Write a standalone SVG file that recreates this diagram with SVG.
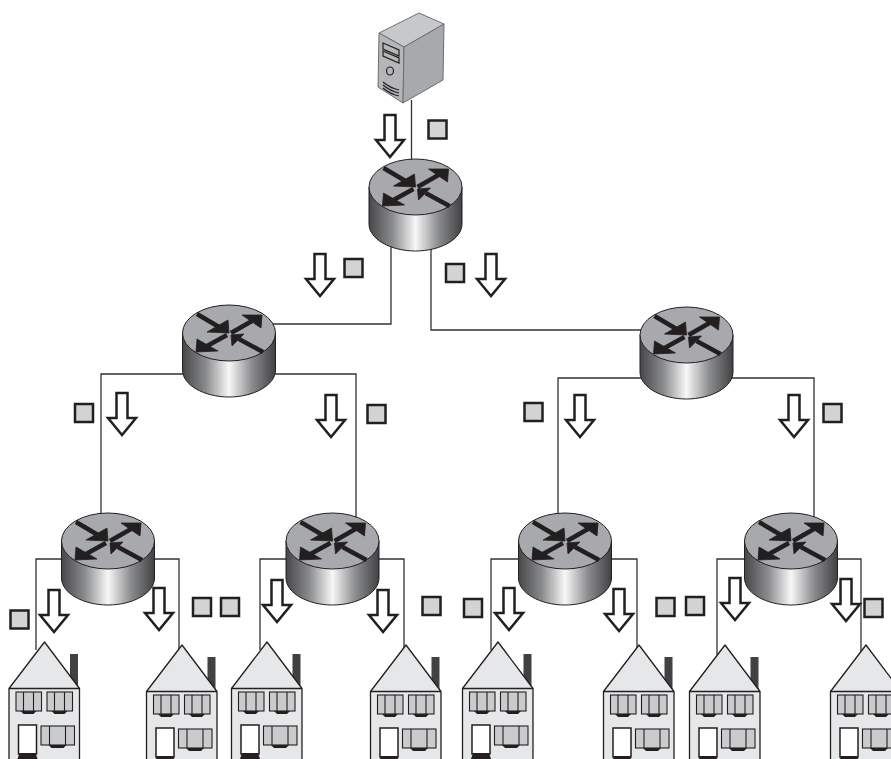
<svg xmlns="http://www.w3.org/2000/svg" width="891" height="759" viewBox="0 0 891 759">
<style>
.w{fill:none;stroke:#333;stroke-width:1.300}
.b{fill:#fff;stroke:#231f20;stroke-width:2.500;stroke-linejoin:miter}
.s{fill:#d1d3d4;stroke:#231f20;stroke-width:2.500}
.hb{fill:#e6e7e8;stroke:#231f20;stroke-width:1.300;stroke-linejoin:round}
.wn{fill:#c9cbcd;stroke:#231f20;stroke-width:1.100}
.dk{fill:#231f20}
</style>
<defs>
<linearGradient id="cyl" x1="0" x2="1" y1="0" y2="0">
<stop offset="0" stop-color="#47474a"/><stop offset=".25" stop-color="#8a8b8d"/><stop offset=".5" stop-color="#f7f7f7"/><stop offset=".75" stop-color="#8a8b8d"/><stop offset="1" stop-color="#414143"/>
</linearGradient>
<symbol id="router" overflow="visible">
<path d="M-46.500 0V37C-46.500 52 -25 64 0 64S46.500 52 46.500 37V0Z" fill="url(#cyl)" stroke="#231f20" stroke-width="1"/>
<ellipse rx="46.500" ry="28" fill="#a7a9ac" stroke="#231f20" stroke-width="1"/>
<g fill="#231f20" stroke="#231f20">
<path d="M-32 -19L-10 -6" stroke-width="4.500"/><path d="M0 0L-1 -13L-22 -1Z" stroke-width=".8"/>
<path d="M2 0L23 -12" stroke-width="4.500"/><path d="M33 -18L13 -18L32 -5Z" stroke-width=".8"/>
<path d="M-2 2L-22 13" stroke-width="4.500"/><path d="M-33 19L-32 6L-11 18Z" stroke-width=".8"/>
<path d="M34 19L10 6" stroke-width="4.500"/><path d="M2 2L15 1L3 13Z" stroke-width=".8"/>
</g>
</symbol>
<path id="arrow" class="b" d="M0 0L-14 -17H-5.500V-42H5.500V-17H14Z"/>
<rect id="sq" class="s" x="-9" y="-9" width="18" height="18"/>
<symbol id="house" overflow="visible">
<rect x="25.500" y="12" width="8" height="38" fill="#414042"/>
<path class="hb" d="M-35.500 46.500L0 0L35 46.500V120H-35.500Z"/>
<path d="M-35.500 46.500H35" fill="none" stroke="#231f20" stroke-width="1.300"/>
<g class="wn">
<rect x="-28.500" y="50" width="25.500" height="19"/><path d="M-21 50V69M-11 50V69" fill="none"/>
<rect x="2.500" y="50" width="25.500" height="19"/><path d="M10 50V69M20 50V69" fill="none"/>
<rect x="-3.500" y="84" width="33.500" height="19"/><path d="M5 84V103M21 84V103" fill="none"/>
</g>
<rect x="-26" y="83" width="18" height="29" fill="#fff" stroke="#231f20" stroke-width="1.500"/>
<path class="dk" d="M-25 111H-9L-7 117H-27Z"/>
<path class="dk" d="M-24 69H-8L-11 72H-21Z"/>
<path class="dk" d="M7 69H23L20 72H10Z"/>
<path class="dk" d="M4 103H22L19 106H7Z"/>
</symbol>
</defs>
<rect width="891" height="759" fill="#fff"/>
<g id="connectors">
<path class="w" d="M411.500 100V162"/>
<path class="w" d="M391 245V324H272M431 245V330H642"/>
<path class="w" d="M186 374H101V520M272 374H356V520"/>
<path class="w" d="M643 378H558V520M729 378H814V520"/>
<path class="w" d="M65 559H36V650M150 559H179V655"/>
<path class="w" d="M290 559H260V650M375 559H404V655"/>
<path class="w" d="M522 559H491V650M608 559H637V655"/>
<path class="w" d="M748 559H717V655M834 559H861V655"/>
<g id="arrows">
<use href="#arrow" x="390" y="157"/><use href="#arrow" x="320" y="296"/><use href="#arrow" x="491" y="296"/>
<use href="#arrow" x="122" y="435"/><use href="#arrow" x="331" y="437"/><use href="#arrow" x="580" y="437"/><use href="#arrow" x="794" y="437"/>
<use href="#arrow" x="54" y="632"/><use href="#arrow" x="159" y="630"/><use href="#arrow" x="277" y="622"/><use href="#arrow" x="383" y="632"/>
<use href="#arrow" x="509" y="630"/><use href="#arrow" x="619" y="631"/><use href="#arrow" x="735" y="620"/><use href="#arrow" x="846" y="621"/>
</g>
<g id="packets">
<use href="#sq" x="437.500" y="129.500"/><use href="#sq" x="353.500" y="268"/><use href="#sq" x="455" y="273"/>
<use href="#sq" x="84" y="413"/><use href="#sq" x="376.500" y="414"/><use href="#sq" x="533.500" y="412"/><use href="#sq" x="832.500" y="413"/>
<use href="#sq" x="19.500" y="619.500"/><use href="#sq" x="202" y="607"/><use href="#sq" x="230" y="607"/><use href="#sq" x="431.500" y="606"/>
<use href="#sq" x="473" y="608"/><use href="#sq" x="665.500" y="607"/><use href="#sq" x="695" y="606"/><use href="#sq" x="873.500" y="608"/>
</g>
</g>
<g id="server">
<path d="M379 33L419 13L444 24L404 47Z" fill="#c6c8ca" stroke="#6d6e71" stroke-width="1"/>
<path d="M379 33L404 47L403 103L378 87Z" fill="#b4b6b8" stroke="#6d6e71" stroke-width="1"/>
<path d="M404 47L444 24L443 80L403 103Z" fill="#a7a9ac" stroke="#6d6e71" stroke-width="1"/>
<g fill="none" stroke="#231f20" stroke-width="1.200">
<path d="M383 43L399 50V56L383 49ZM383 51L399 58V63L383 56Z"/>
<ellipse cx="390" cy="71" rx="3.500" ry="4"/>
<path d="M383 82Q390 88 399 90M383 85Q390 91 399 93M383 88Q390 94 399 96"/>
</g>
</g>
<use id="router-0" href="#router" x="415.500" y="187"/>
<use id="router-1" href="#router" x="229" y="333"/>
<use id="router-2" href="#router" x="686.500" y="335"/>
<use id="router-3" href="#router" x="108" y="541"/>
<use id="router-4" href="#router" x="332.500" y="541"/>
<use id="router-5" href="#router" x="565" y="541"/>
<use id="router-6" href="#router" x="791" y="541"/>
<use id="house-0" href="#house" x="44.500" y="642"/>
<use id="house-1" href="#house" x="182" y="645"/>
<use id="house-2" href="#house" x="267" y="642"/>
<use id="house-3" href="#house" x="406" y="645"/>
<use id="house-4" href="#house" x="498" y="642"/>
<use id="house-5" href="#house" x="639" y="645"/>
<use id="house-6" href="#house" x="725" y="645"/>
<use id="house-7" href="#house" x="866" y="645"/>
</svg>
